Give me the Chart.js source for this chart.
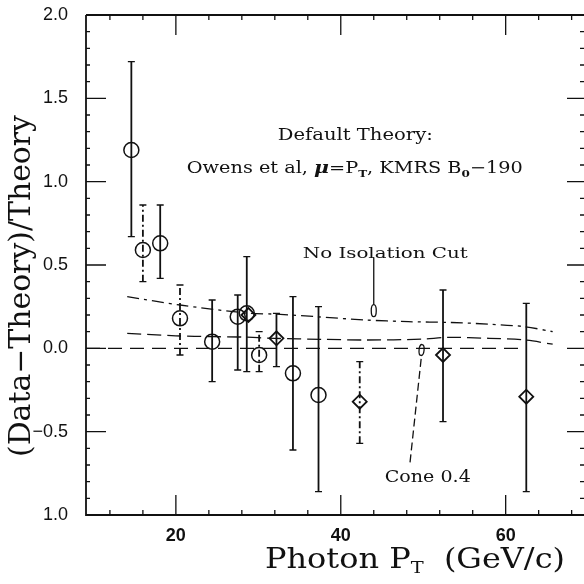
<!DOCTYPE html>
<html><head><meta charset="utf-8">
<script src="https://cdn.jsdelivr.net/npm/chart.js@4/dist/chart.umd.min.js"></script>
<style>html,body{margin:0;padding:0;background:#fff}#wrap{width:584px;height:584px}</style>
</head><body><div id="wrap"><canvas id="c" width="584" height="584"></canvas></div>
<script>
// ---- axis ticks ----
const xTickValues = [20, 40, 60];
const xTickLabels = ["20", "40", "60"];
const yTickValues = [2.0, 1.5, 1.0, 0.5, 0.0, -0.5, -1.0];
const yTickLabels = ["2.0", "1.5", "1.0", "0.5", "0.0", "\u22120.5", "1.0"];

// ---- data: open circles (no isolation cut) ----
const circleX  = [14.6, 16.0, 18.1, 20.5, 24.4, 27.5, 28.6, 30.1, 34.2, 37.3];
const circleY  = [1.19, 0.59, 0.63, 0.18, 0.04, 0.19, 0.21, -0.04, -0.15, -0.28];
const circleLo = [0.67, 0.40, 0.42, -0.04, -0.20, -0.13, -0.14, -0.14, -0.61, -0.86];
const circleHi = [1.72, 0.86, 0.86, 0.38, 0.29, 0.32, 0.55, 0.10, 0.31, 0.25];

// ---- data: open diamonds (cone 0.4) ----
const diamondX  = [28.8, 32.2, 42.3, 52.4, 62.5];
const diamondY  = [0.20, 0.06, -0.32, -0.04, -0.29];
const diamondLo = [null, -0.11, -0.57, -0.44, -0.86];
const diamondHi = [null, 0.21, -0.08, 0.35, 0.27];

// ---- theory ratio curves ----
const noIsoCurveX = [14.1, 20.5, 28.9, 32.2, 37.0, 43.0, 48.2, 53.4, 58.0, 62.3, 65.7];
const noIsoCurveY = [0.31, 0.26, 0.21, 0.205, 0.19, 0.17, 0.16, 0.155, 0.145, 0.13, 0.10];
const coneCurveX  = [14.1, 20.0, 24.5, 28.0, 32.0, 37.7, 43.0, 49.8, 53.0, 58.0, 62.3, 65.7];
const coneCurveY  = [0.09, 0.075, 0.07, 0.068, 0.06, 0.054, 0.05, 0.055, 0.066, 0.06, 0.05, 0.025];
const zeroLineX   = [9.1, 62.0];
const zeroLineY   = [0.0, 0.0];

// ---- annotation anchors (data coordinates) ----
const noIsoPointer = {x: 44.0, yFrom: 0.546, yTo: 0.19};
const conePointer  = {xFrom: 48.4, yFrom: -0.684, xTo: 49.8, yTo: 0.02};

const pts = (X, Y) => X.map((v, i) => ({x: v, y: Y[i]}));
const INK = '#111';

const overlay = {
  id: 'overlay',
  afterDatasetsDraw(chart) {
    const {ctx, scales: {x, y}, chartArea: a} = chart;
    const px = v => x.getPixelForValue(v), py = v => y.getPixelForValue(v);
    ctx.save();
    ctx.strokeStyle = INK; ctx.fillStyle = INK;

    // error bars
    function bars(X, Lo, Hi, dashed, width) {
      for (let i = 0; i < X.length; i++) {
        if (Lo[i] == null) continue;
        const cx = px(X[i]);
        ctx.lineWidth = width;
        ctx.setLineDash(dashed.includes(i) ? [7, 3, 2, 3] : []);
        ctx.beginPath(); ctx.moveTo(cx, py(Lo[i])); ctx.lineTo(cx, py(Hi[i])); ctx.stroke();
        ctx.setLineDash([]); ctx.lineWidth = 1.3;
        ctx.beginPath();
        ctx.moveTo(cx - 3.5, py(Lo[i])); ctx.lineTo(cx + 3.5, py(Lo[i]));
        ctx.moveTo(cx - 3.5, py(Hi[i])); ctx.lineTo(cx + 3.5, py(Hi[i]));
        ctx.stroke();
      }
    }
    bars(circleX, circleLo, circleHi, [1, 3, 7], 1.8);
    bars(diamondX, diamondLo, diamondHi, [2], 1.8);

    // frame
    ctx.setLineDash([]);
    ctx.lineWidth = 1.8;
    ctx.beginPath();
    ctx.moveTo(a.left, a.top); ctx.lineTo(a.left, a.bottom); ctx.lineTo(a.right, a.bottom);
    ctx.moveTo(a.left, a.top); ctx.lineTo(a.right, a.top);
    ctx.stroke();
    ctx.lineWidth = 1.3;
    ctx.beginPath();
    for (let v = 12; v < x.max; v += 4) {
      const major = xTickValues.includes(v);
      const L = major ? 20 : 5;
      const X0 = px(v);
      ctx.moveTo(X0, a.bottom); ctx.lineTo(X0, a.bottom - L);
      ctx.moveTo(X0, a.top); ctx.lineTo(X0, a.top + L);
    }
    for (let k = -9; k <= 19; k++) {
      const v = k / 10;
      const major = (k % 5 === 0);
      const Y0 = py(v);
      ctx.moveTo(a.left, Y0); ctx.lineTo(a.left + (major ? 20 : 4), Y0);
      ctx.moveTo(a.right, Y0); ctx.lineTo(a.right - (major ? 17 : 4), Y0);
    }
    ctx.stroke();

    // pointers
    ctx.lineWidth = 1.3;
    const nx = px(noIsoPointer.x);
    ctx.beginPath(); ctx.moveTo(nx, py(noIsoPointer.yFrom)); ctx.lineTo(nx, py(noIsoPointer.yTo) - 12); ctx.stroke();
    ctx.beginPath(); ctx.ellipse(nx, py(noIsoPointer.yTo) - 6, 2.5, 6, 0, 0, Math.PI * 2); ctx.stroke();
    ctx.setLineDash([8, 4]);
    const cx0 = px(conePointer.xFrom), cy0 = py(conePointer.yFrom), cx1 = px(conePointer.xTo), cy1 = py(conePointer.yTo) + 10;
    ctx.beginPath(); ctx.moveTo(cx0, cy0); ctx.lineTo(cx1, cy1); ctx.stroke();
    ctx.setLineDash([]);
    ctx.beginPath(); ctx.ellipse(cx1, cy1 - 5, 2.5, 5.5, 0.1, 0, Math.PI * 2); ctx.stroke();

    // text helper: runs of [text, font, dy], centred at cxp, fitted to width tw
    function runs(parts, cxp, cyp, tw) {
      let w = 0;
      parts.forEach(p => { ctx.font = p[1]; p.w = ctx.measureText(p[0]).width; w += p.w; });
      const s = tw ? tw / w : 1;
      ctx.save();
      ctx.translate(cxp - w * s / 2, cyp); ctx.scale(s, 1);
      ctx.textBaseline = 'alphabetic'; ctx.textAlign = 'left';
      let sx = 0;
      parts.forEach(p => { ctx.font = p[1]; ctx.fillText(p[0], sx, p[2] || 0); sx += p.w; });
      ctx.restore();
    }
    const ser = '16px "DejaVu Serif"';
    const serS = 'bold 10px "DejaVu Serif"';
    runs([["Default Theory:", ser]], px(41.76), py(1.284) + 6, 155);
    runs([["Owens et al, ", ser], ["\u03bc", 'italic bold 17px "DejaVu Serif"'], ["=P", ser], ["T", serS, 4],
          [", KMRS B", ser], ["0", serS, 4], ["\u2212190", ser]], px(41.7), py(1.086) + 6, 336);
    runs([["No Isolation Cut", '15px "DejaVu Serif"']], px(45.4), py(0.58) + 6, 165);
    runs([["Cone 0.4", '16px "DejaVu Serif"']], px(50.55), py(-0.768) + 6, 86);

    // axis titles
    ctx.save();
    ctx.translate(22, 286);
    ctx.rotate(-Math.PI / 2);
    ctx.font = '29px "DejaVu Serif"';
    const t = "(Data\u2212Theory)/Theory";
    const tw = ctx.measureText(t).width;
    ctx.scale(342 / tw, 1);
    ctx.textAlign = 'center'; ctx.textBaseline = 'middle';
    ctx.fillText(t, 0, 0);
    ctx.restore();

    ctx.save();
    const big = '28px "DejaVu Serif"', sub = '17px "DejaVu Serif"';
    const parts = [["Photon P", big, 0], ["T", sub, 5], ["  (GeV/c)", big, 0]];
    let w = 0; parts.forEach(p => { ctx.font = p[1]; p.w = ctx.measureText(p[0]).width; w += p.w; });
    const s = 300 / w;
    ctx.translate(265, 568); ctx.scale(s, 1);
    let sx = 0; ctx.textAlign = 'left'; ctx.textBaseline = 'alphabetic';
    parts.forEach(p => { ctx.font = p[1]; ctx.fillText(p[0], sx, p[2]); sx += p.w; });
    ctx.restore();

    ctx.restore();
  }
};

new Chart(document.getElementById('c'), {
  type: 'scatter',
  data: {
    datasets: [
      {label: 'No isolation cut data', data: pts(circleX, circleY), pointStyle: 'circle', pointRadius: 7.5,
       borderColor: INK, backgroundColor: 'rgba(255,255,255,0)', pointBorderWidth: 1.5},
      {label: 'Cone 0.4 data', data: pts(diamondX, diamondY), pointStyle: 'rectRot', pointRadius: 7,
       borderColor: INK, backgroundColor: 'rgba(255,255,255,0)', pointBorderWidth: 1.8},
      {label: 'No isolation theory', data: pts(noIsoCurveX, noIsoCurveY), showLine: true, pointRadius: 0,
       borderColor: INK, borderWidth: 1.3, borderDash: [12, 5, 3, 5], tension: 0.3},
      {label: 'Cone 0.4 theory', data: pts(coneCurveX, coneCurveY), showLine: true, pointRadius: 0,
       borderColor: INK, borderWidth: 1.3, borderDash: [14, 6], tension: 0.3},
      {label: 'Zero', data: pts(zeroLineX, zeroLineY), showLine: true, pointRadius: 0,
       borderColor: INK, borderWidth: 1.3, borderDash: [14, 8]}
    ]
  },
  options: {
    responsive: false, animation: false,
    layout: {autoPadding: false, padding: {top: 15, right: 0, left: 0, bottom: 0}},
    plugins: {legend: {display: false}, tooltip: {enabled: false}},
    scales: {
      x: {type: 'linear', min: 9.1, max: 69.5,
          grid: {display: false}, border: {display: false},
          afterBuildTicks: s => { s.ticks = xTickValues.map(v => ({value: v})); },
          ticks: {callback: v => xTickLabels[xTickValues.indexOf(v)], color: INK, padding: 2,
                  maxRotation: 0, autoSkip: false, font: {family: 'Liberation Sans', size: 18, weight: 'bold'}},
          afterFit: s => { s.height = 69; s.paddingLeft = 0; s.paddingRight = 0; }},
      y: {type: 'linear', min: -1, max: 2,
          grid: {display: false}, border: {display: false},
          afterBuildTicks: s => { s.ticks = yTickValues.map(v => ({value: v})); },
          ticks: {callback: v => yTickLabels[yTickValues.indexOf(v)], color: INK, padding: 10,
                  autoSkip: false, font: {family: 'Liberation Sans', size: 18}},
          afterFit: s => { s.width = 86; s.paddingTop = 0; s.paddingBottom = 0; }}
    }
  },
  plugins: [overlay]
});
</script></body></html>
